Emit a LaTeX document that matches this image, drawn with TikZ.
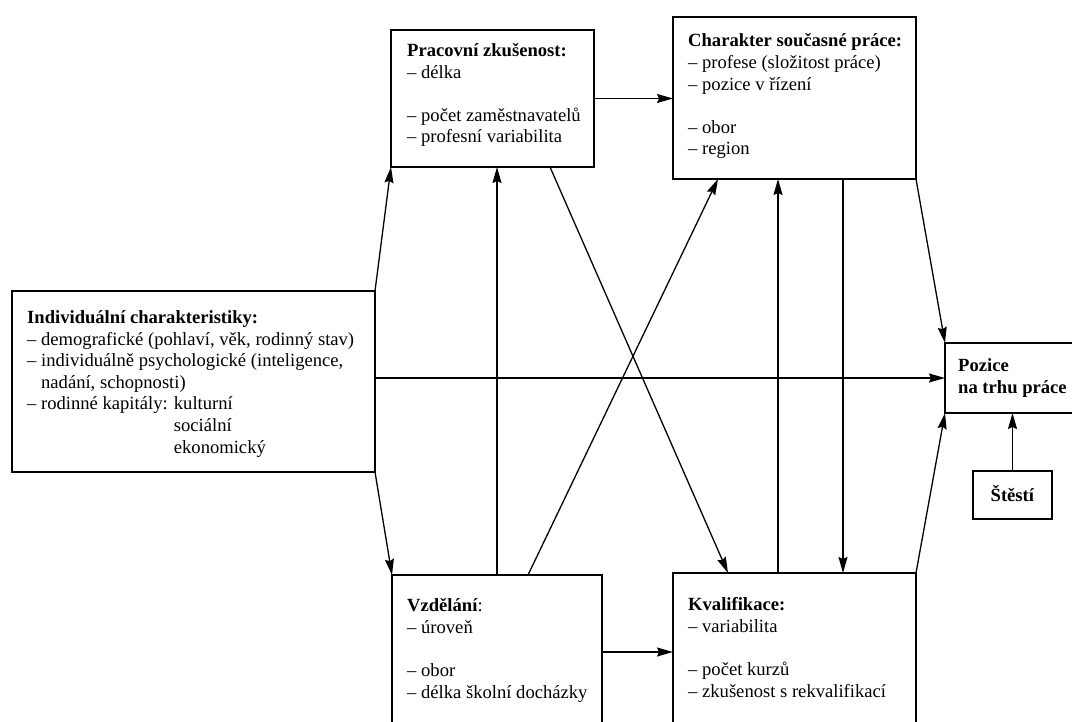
\documentclass[tikz,border=0pt]{standalone}
\usepackage{fontspec}
\setmainfont{Liberation Serif}
\usetikzlibrary{arrows.meta,calc}

\tikzset{
	box/.style={draw, line width=1.5pt, inner sep=0pt, outer sep=0pt, anchor=north west},
	txt/.style={align=left, inner sep=0pt, anchor=base west, font=\fontsize{18.6}{21.6}\selectfont},
	arr/.style={line width=1.3pt, -{Stealth[length=16pt,width=9pt,inset=2pt]}}
}

\begin{document}
\begin{tikzpicture}[x=1pt,y=-1pt]

	\useasboundingbox (0,0) rectangle (1072,722);
	\clip (0,0) rectangle (1072,722);

	% boxes
	\node[box, minimum width=363, minimum height=181] (indiv) at (12,291) {};
	\node[box, minimum width=203, minimum height=137] (work)  at (391,30) {};
	\node[box, minimum width=243, minimum height=162] (job)   at (673,17) {};
	\node[box, minimum width=210, minimum height=154] (edu)   at (392,575) {};
	\node[box, minimum width=243, minimum height=158] (qual)  at (673,573) {};
	\node[box, minimum width=140, minimum height=70]  (pos)   at (945,343) {};
	\node[box, minimum width=79,  minimum height=48]  (luck)  at (973,471) {};

	% texts in the boxes (placed at the baseline of the last line)
	\node[txt] (indiv-t) at ([shift={(15,162)}]indiv.north west)
		{\textbf{Individuální charakteristiky:}\\
		 – demografické (pohlaví, věk, rodinný stav)\\
		 – individuálně psychologické (inteligence,\\
		 \hphantom{– }nadání, schopnosti)\\
		 – rodinné kapitály: kulturní\\
		 \hphantom{– rodinné kapitály: }sociální\\
		 \hphantom{– rodinné kapitály: }ekonomický};
	\node[txt] (work-t) at ([shift={(16,113)}]work.north west)
		{\textbf{Pracovní zkušenost:}\\
		 – délka\\[21.6pt]
		 – počet zaměstnavatelů\\
		 – profesní variabilita};
	\node[txt] (job-t) at ([shift={(15,138)}]job.north west)
		{\textbf{Charakter současné práce:}\\
		 – profese (složitost práce)\\
		 – pozice v řízení\\[21.6pt]
		 – obor\\
		 – region};
	\node[txt] (edu-t) at ([shift={(15,123)}]edu.north west)
		{\textbf{Vzdělání}:\\
		 – úroveň\\[21.6pt]
		 – obor\\
		 – délka školní docházky};
	\node[txt] (qual-t) at ([shift={(15,124)}]qual.north west)
		{\textbf{Kvalifikace:}\\
		 – variabilita\\[21.6pt]
		 – počet kurzů\\
		 – zkušenost s rekvalifikací};
	\node[txt] (pos-t) at ([shift={(13,50)}]pos.north west)
		{\textbf{Pozice}\\
		 \textbf{na trhu práce}};
	\node[txt, anchor=base] (luck-t) at ([shift={(0,30)}]luck.north)
		{\textbf{Štěstí}};

	% arrows from the individual characteristics
	\draw[arr] (indiv.north east) -- (work.south west);
	\draw[arr] (indiv.south east) -- (edu.north west);
	\draw[arr] (indiv.east |- pos.west) -- (pos.west);

	% horizontal arrows
	\draw[arr] (work.east) -- (work.east -| job.west);
	\draw[arr] (edu.east) -- (edu.east -| qual.west);

	% vertical and crossing arrows
	\draw[arr] ([xshift=105]edu.north west) -- ([xshift=105]edu.north west |- work.south);
	\draw[arr] ([xshift=136]edu.north west) -- ([xshift=45]job.south west);
	\draw[arr] ([xshift=159]work.south west) -- ([xshift=55]qual.north west);
	\draw[arr] ([xshift=105]qual.north west) -- ([xshift=105]qual.north west |- job.south);
	\draw[arr] ([xshift=170]job.south west) -- ([xshift=170]job.south west |- qual.north);

	% arrows into the position
	\draw[arr] (job.south east) -- (pos.north west);
	\draw[arr] (qual.north east) -- (pos.south west);
	\draw[arr] (luck.north) -- (luck.north |- pos.south);

\end{tikzpicture}
\end{document}
